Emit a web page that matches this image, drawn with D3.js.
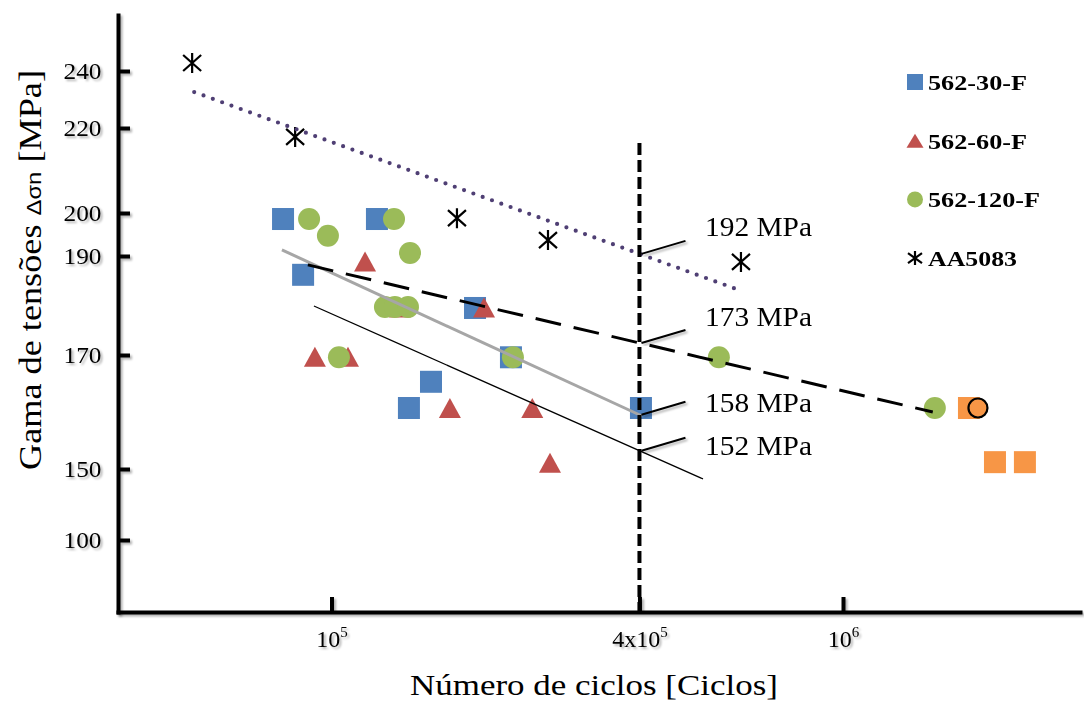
<!DOCTYPE html>
<html><head><meta charset="utf-8">
<script src="https://cdn.jsdelivr.net/npm/d3@7"></script>
<style>body{margin:0;background:#fff}svg{display:block}</style>
</head><body><svg id="c" width="1084" height="704"></svg>
<script>
// ---------- data ----------
const xTickValues = [1e5, 4e5, 1e6];
const xTickBase = ["10", "4x10", "10"];
const xTickExp = ["5", "5", "6"];
const yTickValues = [100, 150, 170, 190, 200, 220, 240];
const seriesNames = ["562-30-F", "562-60-F", "562-120-F", "AA5083"];

const s30N = [80400, 122700, 88000, 190800, 224300, 156500, 141700, 402700];
const s30S = [198.6, 198.6, 186.2, 179.5, 169.6, 165.3, 160.7, 160.7];
const s60N = [116300, 198700, 92800, 107700, 170400, 246900, 267400, 136100];
const s60S = [188.9, 179.6, 169.7, 169.7, 160.7, 160.7, 151.1, 179.6];
const s120N = [90400, 98400, 132500, 142400, 127200, 133000, 141100, 103400, 226300, 571900, 1512000];
const s120S = [198.6, 194.7, 198.6, 190.7, 179.7, 179.7, 179.7, 169.6, 169.6, 169.6, 160.7];
const aaN = [53400, 84900, 175900, 265000, 631700];
const aaS = [242.8, 217.9, 198.8, 193.7, 188.8];
const extraSqN = [1763000, 1982000, 2268000];
const extraSqS = [160.7, 151.2, 151.2];
const extraCircN = [1836000];
const extraCircS = [160.7];

const trendAAN = [53900, 612100],   trendAAS = [232.6, 183.5];
const trend120N = [89900, 1498000], trend120S = [188.2, 160.0];
const trend30N = [80000, 404600],   trend30S = [191.4, 159.3];
const trend60N = [92400, 532400],   trend60S = [179.9, 143.0];
const limitN = 4e5, limitTopS = 216.5;
const annLabels = ["192 MPa", "173 MPa", "158 MPa", "152 MPa"];

// ---------- layout ----------
const SERIF = '"Liberation Serif", "Times New Roman", Tinos, serif';
const SANS = '"Liberation Sans", Arial, sans-serif';
const svg = d3.select("#c");
const defs = svg.append("defs");
const flt = defs.append("filter").attr("id", "sh").attr("x", "-10%").attr("y", "-10%").attr("width", "130%").attr("height", "130%");
flt.append("feDropShadow").attr("dx", 2).attr("dy", 2).attr("stdDeviation", 1.3).attr("flood-color", "#000").attr("flood-opacity", 0.3);

const plot = {left: 118, right: 1080, top: 15, bottom: 612};
const x0 = d3.scaleLog().domain([1e5, 1e6]).range([331.5, 843]);
const x = d3.scaleLog().domain([x0.invert(plot.left), x0.invert(plot.right)]).range([plot.left, plot.right]);
const yPix = [540, 469, 355, 256, 213, 128, 71];
const y0 = d3.scaleLinear().domain(yTickValues).range(yPix);
const y = d3.scaleLinear()
  .domain([y0.invert(plot.bottom), ...yTickValues, y0.invert(plot.top)])
  .range([plot.bottom, ...yPix, plot.top]);

const col = {blue: "#4f81bd", red: "#c0504d", green: "#9bbb59", orange: "#f79646"};

// ---------- axes ----------
const gy = svg.append("g").attr("transform", `translate(${plot.left},0)`)
  .call(d3.axisLeft(y).tickValues(yTickValues).tickSize(-12).tickSizeOuter(0).tickPadding(15));
const gx = svg.append("g").attr("transform", `translate(0,${plot.bottom})`)
  .call(d3.axisBottom(x).tickValues(xTickValues).tickSize(-15).tickSizeOuter(0).tickFormat(() => ""));
[gx, gy].forEach(g => {
  g.attr("filter", "url(#sh)");
  g.select(".domain").attr("stroke", "#000").attr("stroke-width", 4).attr("stroke-linecap", "square");
  g.selectAll(".tick line").attr("stroke", "#000").attr("stroke-width", 4);
});
gy.selectAll(".tick text").attr("font-size", 23).attr("fill", "#000").style("font-family", SERIF)
  .attr("transform", "scale(1.1,1)");
gx.selectAll(".tick text").each(function(d, i) {
  const t = d3.select(this).attr("y", 35).attr("dy", null).attr("font-size", 24)
    .style("font-family", SERIF).attr("fill", "#000").attr("text-anchor", "middle");
  t.append("tspan").text(xTickBase[i]);
  t.append("tspan").attr("dy", -10).attr("font-size", 15).text(xTickExp[i]);
});

// ---------- markers ----------
const sq = 22;
const tri = "M0,-10L11,10L-11,10Z";
const star = "M0,-10V10M-9,-8L9,8M-9,8L9,-8";

svg.append("g").selectAll("rect").data(d3.zip(s30N, s30S)).join("rect")
  .attr("x", d => x(d[0]) - sq / 2).attr("y", d => y(d[1]) - sq / 2)
  .attr("width", sq).attr("height", sq).attr("fill", col.blue);
svg.append("g").selectAll("path").data(d3.zip(s60N, s60S)).join("path")
  .attr("d", tri).attr("transform", d => `translate(${x(d[0])},${y(d[1])})`).attr("fill", col.red);
svg.append("g").selectAll("circle").data(d3.zip(s120N, s120S)).join("circle")
  .attr("cx", d => x(d[0])).attr("cy", d => y(d[1])).attr("r", 11).attr("fill", col.green);
svg.append("g").selectAll("rect").data(d3.zip(extraSqN, extraSqS)).join("rect")
  .attr("x", d => x(d[0]) - sq / 2).attr("y", d => y(d[1]) - sq / 2)
  .attr("width", sq).attr("height", sq).attr("fill", col.orange);
svg.append("g").selectAll("circle").data(d3.zip(extraCircN, extraCircS)).join("circle")
  .attr("cx", d => x(d[0])).attr("cy", d => y(d[1])).attr("r", 9.5)
  .attr("fill", col.orange).attr("stroke", "#000").attr("stroke-width", 2.2);
svg.append("g").selectAll("path").data(d3.zip(aaN, aaS)).join("path")
  .attr("d", star).attr("transform", d => `translate(${x(d[0])},${y(d[1])})`)
  .attr("fill", "none").attr("stroke", "#000").attr("stroke-width", 2.2);

// ---------- trend lines ----------
const lineGen = d3.line().x(d => x(d[0])).y(d => y(d[1]));
const trends = [
  {n: trend60N, s: trend60S, stroke: "#000", w: 1.3, dash: null, cap: "butt"},
  {n: trend30N, s: trend30S, stroke: "#a6a6a6", w: 3, dash: null, cap: "butt"},
  {n: trend120N, s: trend120S, stroke: "#000", w: 3, dash: "26,13", cap: "butt"},
  {n: trendAAN, s: trendAAS, stroke: "#4f3f74", w: 4.2, dash: "0,9.9", cap: "round"}
];
trends.forEach(t => {
  svg.append("path").datum(d3.zip(t.n, t.s)).attr("d", lineGen)
    .attr("fill", "none").attr("stroke", t.stroke).attr("stroke-width", t.w)
    .attr("stroke-dasharray", t.dash).attr("stroke-linecap", t.cap);
});

// vertical limit line at 4x10^5
svg.append("line").attr("x1", x(limitN)).attr("x2", x(limitN))
  .attr("y1", y(limitTopS)).attr("y2", y.range()[0])
  .attr("stroke", "#000").attr("stroke-width", 4).attr("stroke-dasharray", "12,5");

// ---------- annotations ----------
const annLines = [trends[3], trends[2], trends[1], trends[0]];
const annDy = [-5, -4, 10, 17];
const xv = x(limitN);
annLines.forEach((t, i) => {
  const xa = x(t.n[0]), ya = y(t.s[0]), xb = x(t.n[1]), yb = y(t.s[1]);
  const yc = ya + (yb - ya) * (xv - xa) / (xb - xa);
  const ex = xv + 46, ey = yc - 13;
  svg.append("line").attr("x1", xv + 2).attr("y1", yc).attr("x2", ex).attr("y2", ey)
    .attr("stroke", "#000").attr("stroke-width", 2).attr("filter", "url(#sh)");
  svg.append("text").attr("x", 705).attr("y", ey + annDy[i]).attr("font-size", 27)
    .style("font-family", SERIF)
    .attr("textLength", 107).attr("lengthAdjust", "spacingAndGlyphs").text(annLabels[i]);
});

// ---------- legend ----------
const lg = svg.append("g").attr("transform", "translate(915,82)");
const legW = [99, 99, 112, 89];
seriesNames.forEach((nm, i) => {
  const g = lg.append("g").attr("transform", `translate(0,${i * 58.7})`);
  if (i === 0) g.append("rect").attr("x", -8).attr("y", -8).attr("width", 16).attr("height", 16).attr("fill", col.blue);
  if (i === 1) g.append("path").attr("d", "M0,-7L8.5,7L-8.5,7Z").attr("fill", col.red);
  if (i === 2) g.append("circle").attr("r", 8).attr("fill", col.green);
  if (i === 3) g.append("path").attr("d", "M0,-7V7M-7,-5L7,5M-7,5L7,-5").attr("stroke", "#000").attr("stroke-width", 2.2).attr("fill", "none");
  g.append("text").attr("x", 13).attr("y", 8).attr("font-size", 22).attr("font-weight", "bold")
    .style("font-family", SERIF)
    .attr("textLength", legW[i]).attr("lengthAdjust", "spacingAndGlyphs").text(nm);
});

// ---------- axis titles ----------
svg.append("text").attr("x", 410).attr("y", 695).attr("font-size", 30).style("font-family", SERIF)
  .attr("textLength", 368).attr("lengthAdjust", "spacingAndGlyphs").text("Número de ciclos [Ciclos]");
const yt = svg.append("text").attr("transform", "translate(41,470) rotate(-90)")
  .attr("font-size", 32).style("font-family", SERIF)
  .attr("textLength", 400).attr("lengthAdjust", "spacingAndGlyphs");
yt.append("tspan").text("Gama de tensões ");
yt.append("tspan").style("font-family", SANS).attr("font-size", 21).text("Δσn");
yt.append("tspan").text(" [MPa]");
</script>
</body></html>
